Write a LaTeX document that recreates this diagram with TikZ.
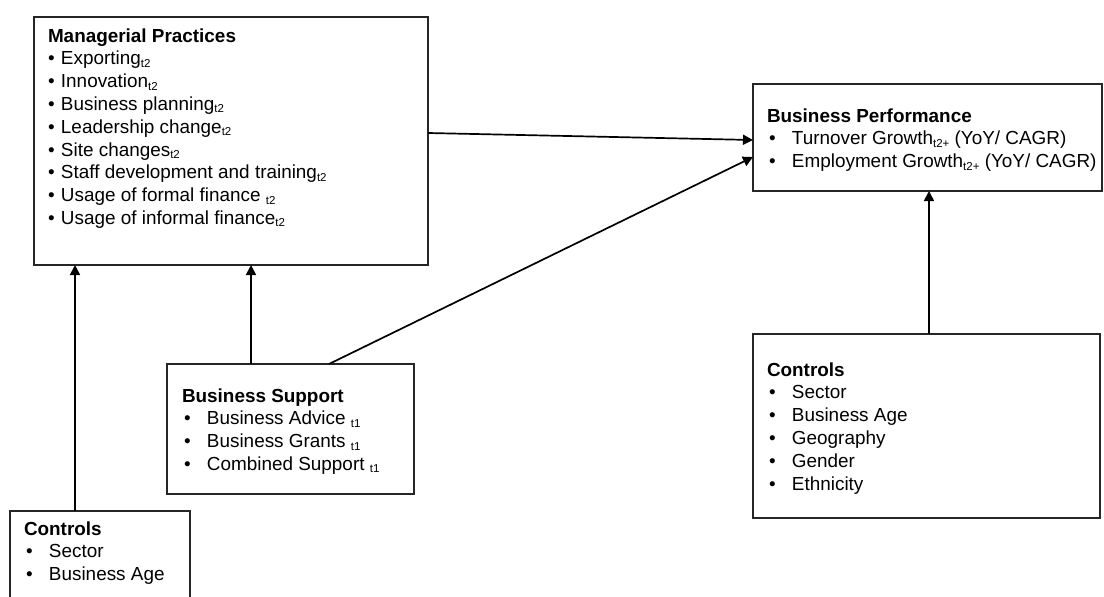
\documentclass[tikz,border=0pt]{standalone}
\usepackage{fontspec}
\setmainfont{Liberation Sans}
\usetikzlibrary{arrows.meta}
\newcommand\tsub[1]{\raisebox{-2.5pt}{\fontsize{11.5}{11.5}\selectfont #1}}
\newcommand\mpb{\makebox[13pt][l]{\textbullet}}
\newcommand\lb{\hspace{2pt}\makebox[23pt][l]{\textbullet}}
\begin{document}
\begin{tikzpicture}[x=1pt,y=-1pt,
  box/.style={draw=black!85, line width=1.6pt, inner sep=0pt, outer sep=0pt, anchor=north west},
  txt/.style={inner sep=0pt, outer sep=0pt, anchor=base west, font=\fontsize{18.9}{22.8}\selectfont},
  arr/.style={line width=1.7pt, -{Triangle[width=10pt,length=10pt]}}]
\useasboundingbox (0,0) rectangle (1104,597);
% boxes
\node[box, minimum width=394pt, minimum height=248pt] (mp) at (34,17) {};
\node[box, minimum width=349pt, minimum height=107pt] (bp) at (753,84) {};
\node[box, minimum width=247pt, minimum height=130pt] (bs) at (167,364) {};
\node[box, minimum width=180pt, minimum height=110pt] (cl) at (10,511) {};
\node[box, minimum width=347pt, minimum height=184pt] (cr) at (753,334) {};
% texts
\node[txt] (mpt) at (48,42) {\begin{tabular}[t]{@{}l@{}}
\textbf{Managerial Practices}\\
\mpb Exporting\tsub{t2}\\
\mpb Innovation\tsub{t2}\\
\mpb Business planning\tsub{t2}\\
\mpb Leadership change\tsub{t2}\\
\mpb Site changes\tsub{t2}\\
\mpb Staff development and training\tsub{t2}\\
\mpb Usage of formal finance \tsub{t2}\\
\mpb Usage of informal finance\tsub{t2}
\end{tabular}};
\node[txt] (bpt) at (767,122) {\begin{tabular}[t]{@{}l@{}}
\textbf{Business Performance}\\
\lb Turnover Growth\tsub{t2+} (YoY/ CAGR)\\
\lb Employment Growth\tsub{t2+} (YoY/ CAGR)
\end{tabular}};
\node[txt] (bst) at (182,402) {\begin{tabular}[t]{@{}l@{}}
\textbf{Business Support}\\
\lb Business Advice \tsub{t1}\\
\lb Business Grants \tsub{t1}\\
\lb Combined Support \tsub{t1}
\end{tabular}};
\node[txt] (clt) at (24,535) {\begin{tabular}[t]{@{}l@{}}
\textbf{Controls}\\
\lb Sector\\
\lb Business Age
\end{tabular}};
\node[txt] (crt) at (767,376) {\begin{tabular}[t]{@{}l@{}}
\textbf{Controls}\\
\lb Sector\\
\lb Business Age\\
\lb Geography\\
\lb Gender\\
\lb Ethnicity
\end{tabular}};
% connectors
\draw[arr] ([xshift=65pt]cl.north west) -- ([xshift=65pt]cl.north west |- mp.south);
\draw[arr] ([xshift=84pt]bs.north west) -- ([xshift=84pt]bs.north west |- mp.south);
\draw[arr] ([xshift=176pt]cr.north west) -- ([xshift=176pt]cr.north west |- bp.south);
\draw[arr] ([yshift=-116pt]mp.north east) -- ([yshift=-56pt]bp.north west);
\draw[arr] ([xshift=162pt]bs.north west) -- ([yshift=-73pt]bp.north west);
\end{tikzpicture}
\end{document}
